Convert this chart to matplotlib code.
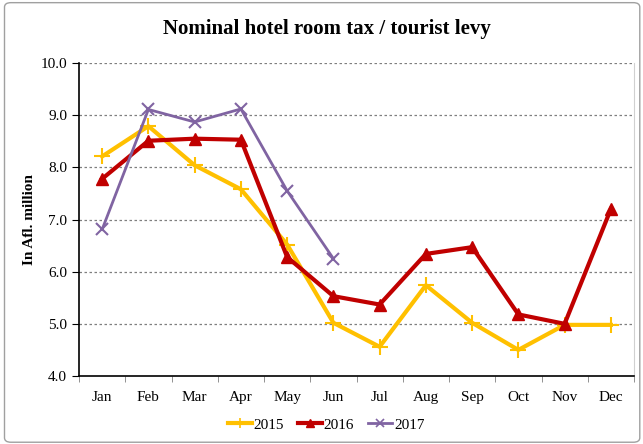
import matplotlib
matplotlib.use("Agg")
import matplotlib.pyplot as plt
from matplotlib.patches import FancyBboxPatch
from matplotlib.lines import Line2D

months = ["Jan", "Feb", "Mar", "Apr", "May", "Jun", "Jul", "Aug", "Sep", "Oct", "Nov", "Dec"]
levy_2015 = [8.21, 8.79, 8.04, 7.58, 6.52, 5.02, 4.56, 5.74, 5.02, 4.50, 4.98, 4.98]
levy_2016 = [7.78, 8.51, 8.55, 8.53, 6.28, 5.53, 5.37, 6.34, 6.47, 5.18, 5.00, 7.20]
levy_2017 = [6.81, 9.11, 8.87, 9.12, 7.55, 6.25]

plt.rcParams["font.family"] = ["Liberation Serif", "DejaVu Serif"]

fig = plt.figure(figsize=(6.43, 4.44), dpi=100)
ax = fig.add_axes([0.1229, 0.1532, 0.8631, 0.7048])

x = range(len(months))
ax.plot(x, levy_2015, color="#FFC000", lw=3, marker="+", ms=11, mew=1.5, label="2015")
ax.plot(x, levy_2016, color="#C00000", lw=3, marker="^", ms=9, label="2016")
ax.plot(range(len(levy_2017)), levy_2017, color="#8064A2", lw=2, marker="x", ms=8, mew=1.5, label="2017")

ax.set_xlim(-0.5, len(months) - 0.5)
ax.set_ylim(4.0, 10.0)
ax.set_yticks([4, 5, 6, 7, 8, 9, 10])
ax.set_yticklabels([f"{v:.1f}" for v in [4, 5, 6, 7, 8, 9, 10]])
ax.set_xticks(list(x))
ax.set_xticklabels(months)
ax.set_xticks([i - 0.5 for i in range(len(months) + 1)], minor=True)
ax.tick_params(axis="x", which="major", length=0, pad=11, labelsize=11)
ax.tick_params(axis="x", which="minor", length=4, direction="out", color="#808080")
ax.tick_params(axis="y", length=5, direction="out", labelsize=11)

for v in [5, 6, 7, 8, 9, 10]:
    ax.axhline(v, color="#7f7f7f", lw=0.9, ls=(0, (2, 2)), zorder=0)

ax.spines["top"].set_visible(False)
ax.spines["right"].set_color("#d0d0d0")
ax.spines["left"].set_linewidth(1.2)
ax.spines["bottom"].set_linewidth(1.2)

ax.set_ylabel("In Afl. million", fontsize=11, fontweight="bold", labelpad=3)
fig.text(0.508, 0.935, "Nominal hotel room tax / tourist levy", ha="center", va="center",
         fontsize=15, fontweight="bold")

handles = [
    Line2D([], [], color="#FFC000", lw=3, marker="+", ms=7, mew=1.2),
    Line2D([], [], color="#C00000", lw=3, marker="^", ms=6),
    Line2D([], [], color="#8064A2", lw=2, marker="x", ms=6, mew=1.2),
]
fig.legend(handles, ["2015", "2016", "2017"], loc="center", bbox_to_anchor=(0.507, 0.043),
           ncol=3, frameon=False, fontsize=11, handlelength=1.6, handletextpad=0.1,
           columnspacing=0.9)

border = FancyBboxPatch((0.007, 0.004), 0.988, 0.99, boxstyle="round,pad=0,rounding_size=0.01",
                        transform=fig.transFigure, fill=False, edgecolor="#a0a0a0", lw=1)
fig.patches.append(border)

fig.savefig("out.png", dpi=100)
